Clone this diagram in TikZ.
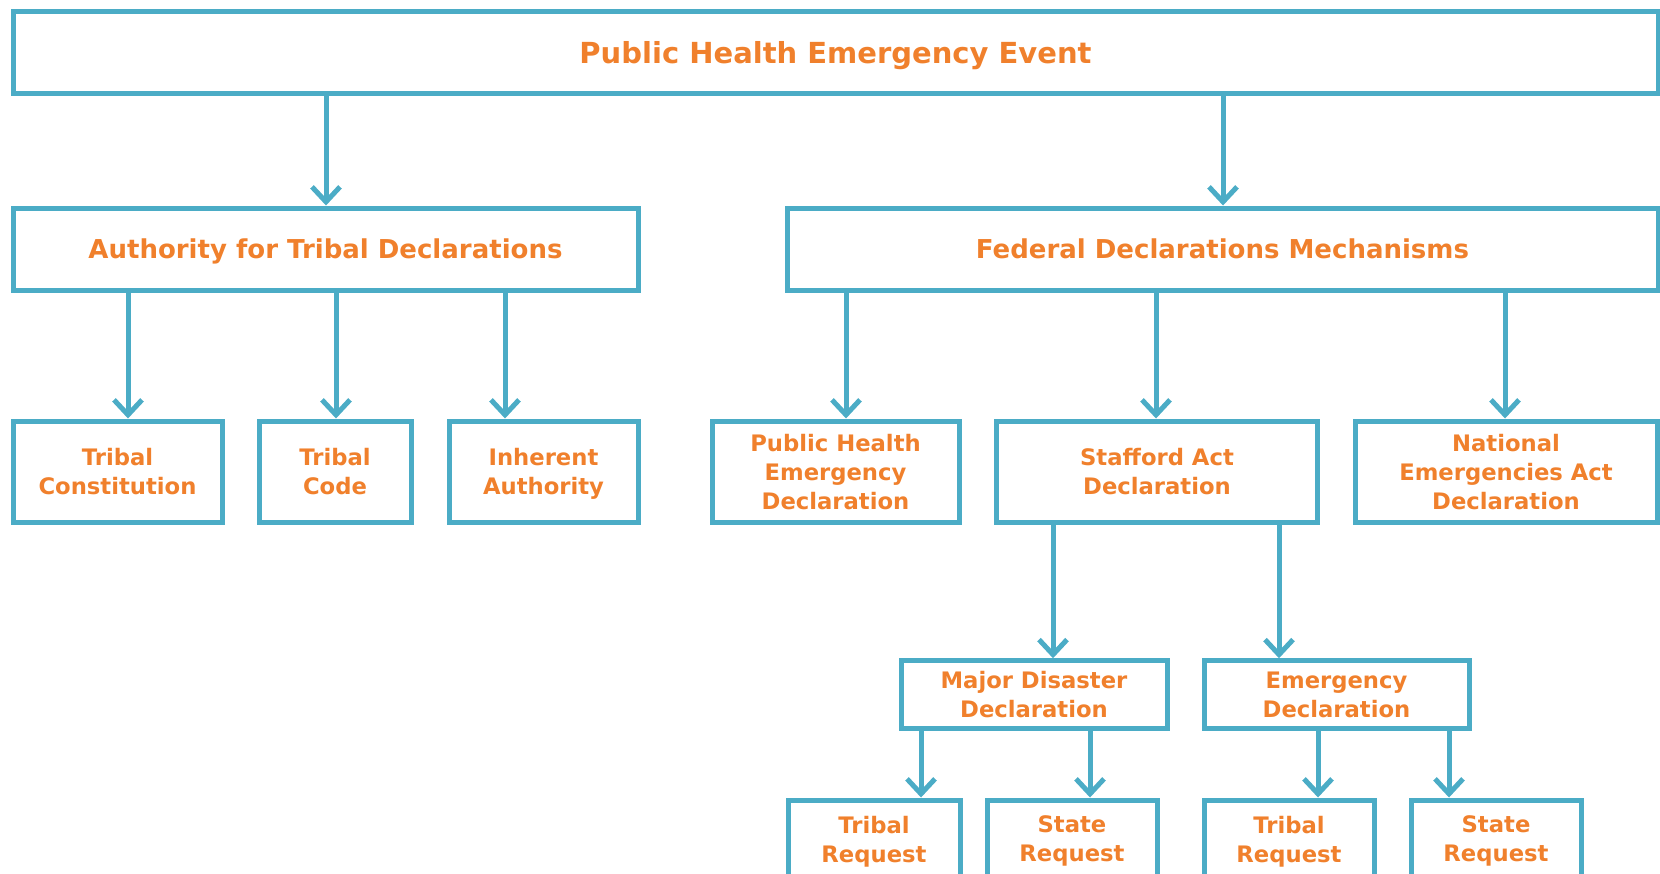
\documentclass[tikz,border=0pt]{standalone}
\usepackage{fontspec}
\setmainfont{DejaVu Sans}
\usetikzlibrary{arrows.meta,calc}
\definecolor{boxblue}{RGB}{75,172,198}
\definecolor{textorange}{RGB}{240,128,44}
\tikzstyle{line} = [draw, boxblue, line width=5pt, -{Straight Barb[length=15pt,width=28pt]}]
\tikzstyle{block} = [draw=boxblue, line width=5pt, rectangle, text centered, inner sep=0pt,
  text=textorange, font=\bfseries\fontsize{22.7}{29}\selectfont, align=center, text depth=0pt]
\tikzstyle{head} = [block, font=\bfseries\fontsize{26}{30}\selectfont]

\begin{document}
\begin{tikzpicture}[x=1pt, y=-1pt]
        \useasboundingbox (0,0) rectangle (1660,873);
        % top level
        \node[head, minimum width=1645pt, minimum height=82pt, font=\bfseries\fontsize{29}{32}\selectfont] (event) at (835.5,52) {Public Health Emergency Event};
        % second level
        \node[head, minimum width=625pt, minimum height=82pt] (tribal) at (325.5,249) {Authority for Tribal Declarations};
        \node[head, minimum width=871pt, minimum height=82pt] (federal) at (1222.5,249) {Federal Declarations Mechanisms};
        % tribal authorities
        \node[block, minimum width=209pt, minimum height=101pt] (constitution) at (117.5,471.5) {Tribal\\Constitution};
        \node[block, minimum width=152pt, minimum height=101pt] (code) at (335,471.5) {Tribal\\Code};
        \node[block, minimum width=189pt, minimum height=101pt] (inherent) at (543.5,471.5) {Inherent\\Authority};
        % federal mechanisms
        \node[block, minimum width=247pt, minimum height=101pt] (phe) at (835.5,471.5) {Public Health\\Emergency\\Declaration};
        \node[block, minimum width=321pt, minimum height=101pt] (stafford) at (1157,471.5) {Stafford Act\\Declaration};
        \node[block, minimum width=302pt, minimum height=101pt] (nea) at (1506,471.5) {National\\Emergencies Act\\Declaration};
        % stafford act types
        \node[block, minimum width=266pt, minimum height=67.5pt] (major) at (1034,694.5) {Major Disaster\\Declaration};
        \node[block, minimum width=265pt, minimum height=67.5pt] (emergency) at (1336.5,694.5) {Emergency\\Declaration};
        % requests
        \node[block, minimum width=172pt, minimum height=78pt] (majortribal) at (874,839) {Tribal\\Request};
        \node[block, minimum width=170pt, minimum height=78pt] (majorstate) at (1072,839) {State\\Request};
        \node[block, minimum width=170pt, minimum height=78pt] (emtribal) at (1289,839) {Tribal\\Request};
        \node[block, minimum width=170pt, minimum height=78pt] (emstate) at (1496,839) {State\\Request};
        \path[line] (event.south -| 326,0) -- (tribal.north -| 326,0);
        \path[line] (event.south -| 1223,0) -- (federal.north -| 1223,0);
        \path[line] (tribal.south -| 128,0) -- (constitution.north -| 128,0);
        \path[line] (tribal.south -| 336,0) -- (code.north -| 336,0);
        \path[line] (tribal.south -| 505,0) -- (inherent.north -| 505,0);
        \path[line] (federal.south -| 846,0) -- (phe.north -| 846,0);
        \path[line] (federal.south -| 1156,0) -- (stafford.north -| 1156,0);
        \path[line] (federal.south -| 1505,0) -- (nea.north -| 1505,0);
        \path[line] (stafford.south -| 1053,0) -- (major.north -| 1053,0);
        \path[line] (stafford.south -| 1279,0) -- (emergency.north -| 1279,0);
        \path[line] (major.south -| 921,0) -- (majortribal.north -| 921,0);
        \path[line] (major.south -| 1090,0) -- (majorstate.north -| 1090,0);
        \path[line] (emergency.south -| 1318,0) -- (emtribal.north -| 1318,0);
        \path[line] (emergency.south -| 1449,0) -- (emstate.north -| 1449,0);
    \end{tikzpicture}
\end{document}
